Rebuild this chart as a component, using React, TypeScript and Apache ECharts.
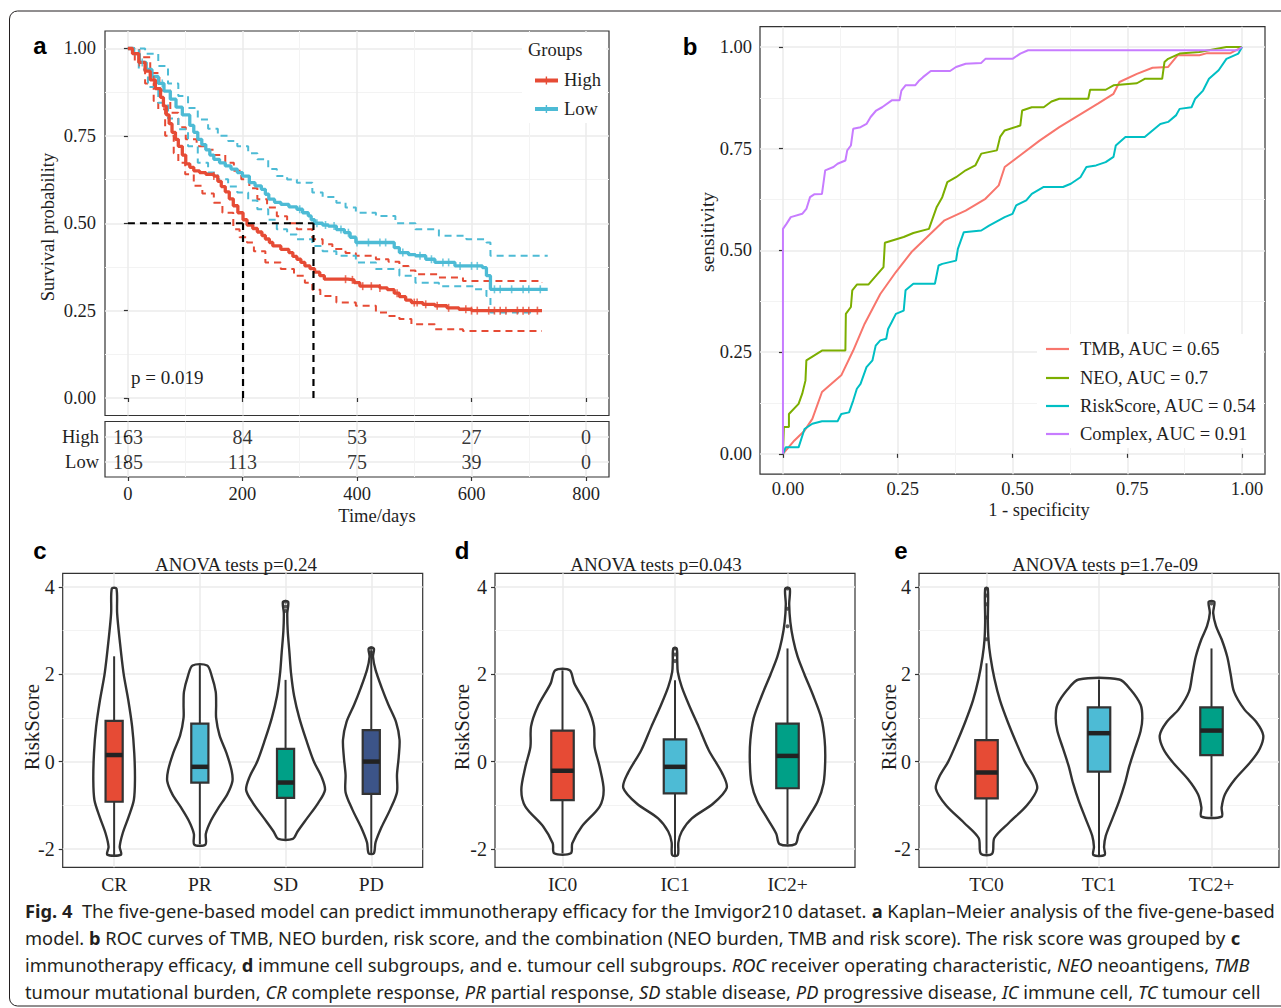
import React, { useEffect, useRef } from "react";
import * as echarts from "echarts";

const W = 1281;
const H = 1008;
const SERIF = '"Liberation Serif", "Times New Roman", serif';
const SANS = '"Liberation Sans", Arial, sans-serif';
const CAPFONT = '"Noto Sans", "Open Sans", sans-serif';

const RED = "#E64B35";
const BLUE = "#4DBBD5";
const TEAL = "#00A087";
const NAVY = "#3C5488";
const FRAME = "#333333";
const INK = "#1f1f1f";
const GRID_MAJOR = "#EBEBEB";
const GRID_MINOR = "#F3F3F3";

// ---------------- Panel a : Kaplan-Meier ----------------
const timeTicks = [0, 200, 400, 600, 800];
const timeMinor = [100, 300, 500, 700];
const probTicks = [0, 0.25, 0.5, 0.75, 1];
const probMinor = [0.125, 0.375, 0.625, 0.875];

const kmHigh = [
  [0, 1.0], [8, 0.985], [19, 0.96], [30, 0.935], [39, 0.91], [48, 0.885], [57, 0.86], [62, 0.835],
  [67, 0.81], [72, 0.785], [77, 0.76], [83, 0.74], [88, 0.72], [95, 0.695], [101, 0.67], [108, 0.66],
  [115, 0.65], [125, 0.645], [136, 0.64], [150, 0.635], [157, 0.62], [163, 0.605], [170, 0.59],
  [177, 0.57], [184, 0.55], [192, 0.53], [201, 0.51], [208, 0.495], [218, 0.485], [226, 0.475],
  [234, 0.465], [240, 0.455], [247, 0.445], [253, 0.435], [267, 0.425], [281, 0.416], [288, 0.405],
  [295, 0.397], [302, 0.388], [309, 0.378], [318, 0.37], [326, 0.36], [335, 0.35], [343, 0.34],
  [384, 0.338], [395, 0.33], [405, 0.32], [440, 0.315], [453, 0.31], [465, 0.3], [474, 0.29],
  [485, 0.28], [495, 0.273], [515, 0.268], [536, 0.264], [557, 0.258], [578, 0.254], [600, 0.25],
  [723, 0.25],
];
const kmLow = [
  [0, 1.0], [10, 0.985], [20, 0.96], [32, 0.94], [42, 0.92], [53, 0.9], [63, 0.878], [74, 0.855],
  [84, 0.832], [95, 0.81], [108, 0.78], [115, 0.76], [122, 0.74], [129, 0.725], [136, 0.71],
  [143, 0.695], [150, 0.683], [160, 0.673], [170, 0.664], [180, 0.655], [191, 0.645], [200, 0.635],
  [212, 0.616], [222, 0.607], [233, 0.597], [240, 0.583], [246, 0.569], [256, 0.56], [267, 0.554],
  [281, 0.547], [295, 0.54], [305, 0.53], [315, 0.521], [320, 0.51], [326, 0.5], [340, 0.495],
  [350, 0.492], [364, 0.482], [378, 0.473], [388, 0.46], [398, 0.445], [457, 0.445], [465, 0.43],
  [474, 0.416], [490, 0.41], [502, 0.407], [520, 0.397], [536, 0.388], [571, 0.378], [619, 0.373],
  [626, 0.35], [633, 0.311], [733, 0.311],
];
const kmHighUpper = [
  [0, 1], [20, 0.975], [39, 0.93], [55, 0.88], [74, 0.816], [88, 0.775], [101, 0.74], [120, 0.72],
  [136, 0.71], [150, 0.695], [170, 0.673], [185, 0.65], [198, 0.626], [212, 0.6], [226, 0.569],
  [243, 0.545], [260, 0.52], [278, 0.5], [295, 0.483], [322, 0.454], [340, 0.44], [357, 0.426],
  [380, 0.415], [398, 0.407], [433, 0.397], [455, 0.39], [474, 0.378], [490, 0.365], [502, 0.354],
  [543, 0.345], [585, 0.335], [723, 0.33],
];
const kmHighLower = [
  [0, 1], [12, 0.96], [30, 0.9], [45, 0.85], [53, 0.826], [65, 0.75], [80, 0.7], [88, 0.673],
  [100, 0.64], [115, 0.607], [130, 0.585], [150, 0.559], [165, 0.53], [184, 0.483], [195, 0.46],
  [208, 0.445], [220, 0.42], [240, 0.388], [267, 0.369], [290, 0.35], [309, 0.33], [322, 0.31],
  [336, 0.292], [364, 0.273], [398, 0.264], [433, 0.245], [455, 0.235], [474, 0.226], [495, 0.211],
  [536, 0.197], [585, 0.192], [723, 0.192],
];
const kmLowUpper = [
  [0, 1], [30, 0.985], [53, 0.95], [70, 0.9], [88, 0.864], [105, 0.83], [122, 0.797], [140, 0.77],
  [157, 0.75], [175, 0.735], [191, 0.72], [210, 0.7], [226, 0.683], [245, 0.655], [260, 0.635],
  [278, 0.625], [295, 0.616], [322, 0.588], [340, 0.575], [364, 0.559], [380, 0.545], [398, 0.53],
  [433, 0.521], [467, 0.5], [502, 0.483], [543, 0.464], [591, 0.454], [626, 0.445], [633, 0.407],
  [733, 0.407],
];
const kmLowLower = [
  [0, 1], [19, 0.94], [35, 0.89], [53, 0.845], [70, 0.8], [88, 0.769], [105, 0.72], [122, 0.673],
  [140, 0.645], [157, 0.626], [175, 0.605], [191, 0.588], [210, 0.565], [226, 0.54], [245, 0.51],
  [260, 0.483], [278, 0.468], [295, 0.454], [322, 0.435], [340, 0.42], [364, 0.407], [398, 0.388],
  [433, 0.369], [474, 0.35], [502, 0.33], [543, 0.32], [605, 0.311], [626, 0.292], [633, 0.245],
  [709, 0.24],
];
const medianHigh = 201;
const medianLow = 324;
const censorHigh = [
  20, 45, 150, 380, 392, 410, 425, 440, 470, 500, 505, 520, 540, 560, 590, 600, 610, 630, 640, 650,
  660, 680, 690, 700, 715,
];
const censorLow = [
  25, 60, 300, 330, 345, 360, 372, 385, 400, 420, 440, 450, 480, 510, 530, 550, 560, 580, 600, 610,
  640, 650, 670, 690, 700, 720,
];
const riskTimes = [0, 200, 400, 600, 800];
const riskHigh = [163, 84, 53, 27, 0];
const riskLow = [185, 113, 75, 39, 0];
const riskRows = ["Low", "High"];
const kmPValue = "p = 0.019";

// ---------------- Panel b : ROC ----------------
const rocTMB = [
  [0, 0], [0.025, 0.033], [0.047, 0.057], [0.064, 0.086], [0.085, 0.152], [0.127, 0.193],
  [0.153, 0.254], [0.178, 0.32], [0.212, 0.393], [0.246, 0.447], [0.28, 0.496], [0.314, 0.533],
  [0.352, 0.574], [0.398, 0.598], [0.441, 0.627], [0.47, 0.66], [0.483, 0.705], [0.517, 0.734],
  [0.559, 0.77], [0.602, 0.803], [0.644, 0.832], [0.686, 0.861], [0.72, 0.885], [0.733, 0.914],
  [0.771, 0.934], [0.805, 0.949], [0.839, 0.951], [0.86, 0.98], [0.907, 0.98], [0.924, 0.985],
  [0.975, 0.985], [1, 1],
];
const rocNEO = [
  [0, 0], [0.002, 0.066], [0.013, 0.066], [0.013, 0.098], [0.034, 0.123], [0.042, 0.148],
  [0.049, 0.18], [0.051, 0.23], [0.085, 0.254], [0.136, 0.254], [0.137, 0.344], [0.148, 0.361],
  [0.151, 0.402], [0.161, 0.416], [0.186, 0.416], [0.219, 0.459], [0.222, 0.519], [0.263, 0.533],
  [0.284, 0.543], [0.318, 0.553], [0.335, 0.607], [0.347, 0.631], [0.358, 0.668], [0.377, 0.68],
  [0.398, 0.697], [0.419, 0.709], [0.432, 0.738], [0.466, 0.746], [0.473, 0.779], [0.483, 0.795],
  [0.517, 0.807], [0.521, 0.844], [0.542, 0.852], [0.568, 0.852], [0.585, 0.866], [0.602, 0.873],
  [0.665, 0.873], [0.669, 0.895], [0.703, 0.895], [0.72, 0.906], [0.771, 0.911], [0.788, 0.922],
  [0.826, 0.922], [0.831, 0.963], [0.839, 0.971], [0.864, 0.984], [0.907, 0.988], [0.966, 1], [1, 1],
];
const rocRisk = [
  [0, 0], [0.006, 0.016], [0.034, 0.016], [0.047, 0.061], [0.064, 0.074], [0.085, 0.08],
  [0.119, 0.08], [0.127, 0.098], [0.144, 0.102], [0.153, 0.131], [0.161, 0.16], [0.169, 0.172],
  [0.182, 0.213], [0.195, 0.23], [0.202, 0.266], [0.212, 0.279], [0.225, 0.283], [0.229, 0.307],
  [0.237, 0.324], [0.246, 0.344], [0.263, 0.352], [0.267, 0.402], [0.284, 0.418], [0.331, 0.418],
  [0.339, 0.463], [0.347, 0.467], [0.377, 0.475], [0.381, 0.504], [0.394, 0.545], [0.432, 0.549],
  [0.449, 0.561], [0.483, 0.582], [0.5, 0.59], [0.508, 0.611], [0.53, 0.623], [0.542, 0.639],
  [0.568, 0.656], [0.61, 0.656], [0.627, 0.664], [0.648, 0.68], [0.661, 0.705], [0.682, 0.709],
  [0.703, 0.717], [0.72, 0.73], [0.725, 0.758], [0.746, 0.779], [0.788, 0.779], [0.805, 0.795],
  [0.822, 0.811], [0.839, 0.816], [0.856, 0.832], [0.864, 0.848], [0.89, 0.852], [0.898, 0.873],
  [0.915, 0.893], [0.928, 0.922], [0.949, 0.943], [0.966, 0.971], [0.992, 0.984], [1, 1],
];
const rocComplex = [
  [0, 0], [0, 0.553], [0.008, 0.566], [0.017, 0.582], [0.042, 0.59], [0.051, 0.602], [0.059, 0.631],
  [0.068, 0.638], [0.085, 0.639], [0.092, 0.697], [0.11, 0.705], [0.119, 0.713], [0.136, 0.721],
  [0.14, 0.746], [0.148, 0.758], [0.153, 0.799], [0.169, 0.803], [0.182, 0.811], [0.191, 0.828],
  [0.203, 0.844], [0.216, 0.852], [0.237, 0.869], [0.254, 0.869], [0.258, 0.893], [0.267, 0.906],
  [0.288, 0.906], [0.297, 0.918], [0.305, 0.926], [0.322, 0.941], [0.364, 0.941], [0.377, 0.951],
  [0.398, 0.959], [0.432, 0.961], [0.441, 0.971], [0.5, 0.971], [0.517, 0.984], [0.534, 0.992],
  [0.99, 0.992], [1, 1],
];
const rocNames = ["TMB, AUC = 0.65", "NEO, AUC = 0.7", "RiskScore, AUC = 0.54", "Complex, AUC = 0.91"];
const rocColors = ["#F8766D", "#7CAE00", "#00BFC4", "#C77CFF"];

// ---------------- Panels c, d, e : violins ----------------
const scoreTicks = [-2, 0, 2, 4];
const scoreMinor = [-1, 1, 3];

const catsC = ["CR", "PR", "SD", "PD"];
const catsD = ["IC0", "IC1", "IC2+"];
const catsE = ["TC0", "TC1", "TC2+"];

// box stats: [lower whisker, Q1, median, Q3, upper whisker]
const boxC = [
  [-2.14, -0.92, 0.15, 0.93, 2.41],
  [-1.89, -0.48, -0.12, 0.87, 2.21],
  [-1.77, -0.83, -0.48, 0.29, 1.87],
  [-2.1, -0.74, 0.0, 0.72, 2.55],
];
const boxD = [
  [-2.1, -0.88, -0.21, 0.71, 2.09],
  [-2.14, -0.73, -0.12, 0.51, 1.86],
  [-1.89, -0.61, 0.13, 0.87, 2.59],
];
const boxE = [
  [-2.11, -0.84, -0.25, 0.49, 2.25],
  [-2.14, -0.23, 0.65, 1.24, 1.88],
  [-1.26, 0.15, 0.71, 1.24, 2.59],
];

// violin outlines: [RiskScore, half width in category units], top to bottom
const vCR = [[3.96, 0.027], [3.4, 0.035], [2.78, 0.065], [2.02, 0.11], [1.41, 0.165], [0.8, 0.21], [0.19, 0.235], [-0.42, 0.243], [-0.88, 0.23], [-1.26, 0.17], [-1.64, 0.1], [-1.95, 0.065], [-2.13, 0.08]];
const vPR = [[2.2, 0.085], [1.95, 0.14], [1.6, 0.185], [1.3, 0.19], [1.0, 0.19], [0.6, 0.23], [0.2, 0.31], [-0.2, 0.37], [-0.45, 0.38], [-0.75, 0.32], [-1.05, 0.22], [-1.35, 0.13], [-1.65, 0.07], [-1.9, 0.065]];
const vSD = [[3.66, 0.03], [3.4, 0.02], [3.0, 0.025], [2.5, 0.045], [2.0, 0.065], [1.5, 0.1], [1.0, 0.16], [0.5, 0.24], [0.0, 0.33], [-0.35, 0.42], [-0.65, 0.46], [-0.95, 0.38], [-1.3, 0.25], [-1.6, 0.14], [-1.77, 0.085]];
const vPD = [[2.59, 0.03], [2.4, 0.02], [2.1, 0.05], [1.7, 0.12], [1.3, 0.2], [0.9, 0.29], [0.5, 0.33], [0.1, 0.32], [-0.3, 0.3], [-0.7, 0.3], [-1.1, 0.22], [-1.5, 0.12], [-1.85, 0.05], [-2.1, 0.03]];
const vIC0 = [[2.09, 0.064], [1.79, 0.105], [1.26, 0.22], [0.8, 0.28], [0.34, 0.285], [-0.12, 0.33], [-0.65, 0.366], [-1.03, 0.33], [-1.49, 0.17], [-1.87, 0.087], [-2.1, 0.074]];
const vIC1 = [[2.59, 0.015], [2.3, 0.02], [2.05, 0.025], [1.71, 0.06], [1.26, 0.13], [0.8, 0.21], [0.26, 0.3], [-0.27, 0.42], [-0.6, 0.46], [-0.96, 0.34], [-1.3, 0.15], [-1.6, 0.06], [-1.85, 0.03], [-2.14, 0.025]];
const vIC2 = [[3.96, 0.02], [3.6, 0.015], [3.2, 0.025], [2.8, 0.05], [2.4, 0.09], [2.0, 0.15], [1.5, 0.23], [1.0, 0.3], [0.5, 0.33], [0.0, 0.335], [-0.5, 0.32], [-0.9, 0.27], [-1.3, 0.18], [-1.65, 0.1], [-1.89, 0.07]];
const vTC0 = [[3.96, 0.012], [3.2, 0.012], [2.78, 0.018], [2.4, 0.035], [1.9, 0.07], [1.4, 0.12], [0.9, 0.19], [0.4, 0.27], [0.0, 0.34], [-0.35, 0.42], [-0.62, 0.45], [-1.0, 0.36], [-1.4, 0.2], [-1.75, 0.07], [-2.11, 0.05]];
const vTC1 = [[1.88, 0.18], [1.65, 0.28], [1.3, 0.37], [1.0, 0.385], [0.7, 0.37], [0.3, 0.32], [-0.1, 0.27], [-0.5, 0.23], [-0.9, 0.18], [-1.3, 0.12], [-1.7, 0.06], [-1.95, 0.045], [-2.14, 0.05]];
const vTC2 = [[3.66, 0.025], [3.4, 0.015], [3.1, 0.04], [2.8, 0.09], [2.4, 0.14], [2.0, 0.17], [1.6, 0.2], [1.2, 0.29], [0.9, 0.4], [0.6, 0.46], [0.3, 0.43], [0.0, 0.35], [-0.4, 0.21], [-0.75, 0.12], [-1.05, 0.09], [-1.26, 0.09]];

const outliersC = [[3, 3.45], [3, 3.55], [3, 3.66], [4, 2.42], [4, 2.5], [4, 2.6]];
const outliersD = [[2, 2.3], [2, 2.45], [2, 2.59], [3, 3.1], [3, 3.5], [3, 3.96]];
const outliersE = [[1, 2.8], [1, 3.3], [1, 3.6], [1, 3.8], [1, 3.96], [3, 3.62]];

const anovaC = "ANOVA tests p=0.24";
const anovaD = "ANOVA tests p=0.043";
const anovaE = "ANOVA tests p=1.7e-09";

// ---------------- Caption ----------------
const caption1 = [
  ["b", "Fig. 4"],
  ["n", "  The five-gene-based model can predict immunotherapy efficacy for the Imvigor210 dataset. "],
  ["b", "a"],
  ["n", " Kaplan–Meier analysis of the five-gene-based"],
];
const caption2 = [
  ["n", "model. "],
  ["b", "b"],
  ["n", " ROC curves of TMB, NEO burden, risk score, and the combination (NEO burden, TMB and risk score). The risk score was grouped by "],
  ["b", "c"],
];
const caption3 = [
  ["n", "immunotherapy efficacy, "],
  ["b", "d"],
  ["n", " immune cell subgroups, and e. tumour cell subgroups. "],
  ["i", "ROC"],
  ["n", " receiver operating characteristic, "],
  ["i", "NEO"],
  ["n", " neoantigens, "],
  ["i", "TMB"],
];
const caption4 = [
  ["n", "tumour mutational burden, "],
  ["i", "CR"],
  ["n", " complete response, "],
  ["i", "PR"],
  ["n", " partial response, "],
  ["i", "SD"],
  ["n", " stable disease, "],
  ["i", "PD"],
  ["n", " progressive disease, "],
  ["i", "IC"],
  ["n", " immune cell, "],
  ["i", "TC"],
  ["n", " tumour cell"],
];
const CAP_SIZE = 18.5;

// ---------------- helpers ----------------
function survAt(curve: number[][], t: number) {
  let s = 1;
  for (const [ct, cs] of curve) if (ct <= t) s = cs;
  return s;
}

function mainAxis(gridIndex: number, min: number, max: number, majors: number[], cfg: any) {
  return {
    type: "value",
    gridIndex,
    min,
    max,
    position: cfg.position,
    axisLine: { show: false },
    axisTick: {
      show: cfg.tick !== false,
      length: 4,
      inside: false,
      customValues: majors,
      lineStyle: { color: FRAME, width: 1.2 },
    },
    axisLabel: cfg.label
      ? {
          show: true,
          customValues: majors,
          formatter: cfg.formatter,
          color: INK,
          fontFamily: SERIF,
          fontSize: cfg.fontSize,
          margin: cfg.margin,
          padding: cfg.padding || 0,
        }
      : { show: false },
    splitLine: { show: true, lineStyle: { color: GRID_MAJOR, width: 1.5 } },
  };
}
function minorAxis(gridIndex: number, min: number, max: number, minors: number[]) {
  return {
    type: "value",
    gridIndex,
    min,
    max,
    axisLine: { show: false },
    axisTick: { show: false, customValues: minors },
    axisLabel: { show: false },
    splitLine: { show: true, lineStyle: { color: GRID_MINOR, width: 1 } },
  };
}

function txt(text: string, x: number, y: number, o: any = {}) {
  return {
    type: "text",
    x,
    y,
    rotation: o.rotation || 0,
    z: 20,
    silent: true,
    style: {
      text,
      fill: o.fill || INK,
      fontFamily: o.fontFamily || SERIF,
      fontSize: o.fontSize || 18.5,
      fontWeight: o.fontWeight || "normal",
      align: o.align || "center",
      verticalAlign: "middle",
    },
  };
}

function violinSeries(xIdx: number, yIdx: number, profiles: number[][][], fills: string[], boxes: number[][]) {
  const BOX_HALF = 0.1;
  return {
    type: "custom",
    xAxisIndex: xIdx,
    yAxisIndex: yIdx,
    silent: true,
    z: 3,
    data: boxes.map((b, i) => [i + 1, ...b]),
    encode: { x: 0, y: [1, 2, 3, 4, 5] },
    renderItem: (params: any, api: any) => {
      const i = params.dataIndex;
      const cx = api.value(0);
      const prof = profiles[i];
      const pts: number[][] = [];
      for (const [y, w] of prof) pts.push(api.coord([cx + w, y]));
      for (let k = prof.length - 1; k >= 0; k--) pts.push(api.coord([cx - prof[k][1], prof[k][0]]));
      const lo = api.value(1), q1 = api.value(2), md = api.value(3), q3 = api.value(4), hi = api.value(5);
      const tl = api.coord([cx - BOX_HALF, q3]);
      const br = api.coord([cx + BOX_HALF, q1]);
      const mL = api.coord([cx - BOX_HALF, md]);
      const mR = api.coord([cx + BOX_HALF, md]);
      const pHi = api.coord([cx, hi]);
      const pQ3 = api.coord([cx, q3]);
      const pQ1 = api.coord([cx, q1]);
      const pLo = api.coord([cx, lo]);
      return {
        type: "group",
        children: [
          { type: "polygon", shape: { points: pts, smooth: 0.3 }, style: { fill: "#fff", stroke: FRAME, lineWidth: 2.4 } },
          { type: "line", shape: { x1: pHi[0], y1: pHi[1], x2: pQ3[0], y2: pQ3[1] }, style: { stroke: FRAME, lineWidth: 2 } },
          { type: "line", shape: { x1: pQ1[0], y1: pQ1[1], x2: pLo[0], y2: pLo[1] }, style: { stroke: FRAME, lineWidth: 2 } },
          {
            type: "rect",
            shape: { x: tl[0], y: tl[1], width: br[0] - tl[0], height: br[1] - tl[1] },
            style: { fill: fills[i], stroke: FRAME, lineWidth: 2.2 },
          },
          { type: "line", shape: { x1: mL[0], y1: mL[1], x2: mR[0], y2: mR[1] }, style: { stroke: "#222", lineWidth: 4.5 } },
        ],
      };
    },
  };
}

function richStyles() {
  const base = { fontSize: CAP_SIZE, fontFamily: CAPFONT, fill: "#231F20", color: "#231F20" };
  return {
    n: { ...base },
    b: { ...base, fontWeight: "bold" },
    i: { ...base, fontStyle: "italic" },
  };
}
function richText(segs: string[][]) {
  return segs.map(([s, t]) => `{${s}|${t}}`).join("");
}
function measureSegs(segs: string[][]) {
  const ctx = document.createElement("canvas").getContext("2d");
  if (!ctx) return 1500;
  let w = 0;
  for (const [s, t] of segs) {
    ctx.font = `${s === "i" ? "italic " : ""}${s === "b" ? "bold " : ""}${CAP_SIZE}px ${CAPFONT}`;
    w += ctx.measureText(t).width;
  }
  return w;
}

function buildOption() {
  const capScale = 1250 / measureSegs(caption1);
  const fmt2 = (v: number) => v.toFixed(2);

  const grids = [
    { left: 105, top: 31, width: 504, height: 384.5 }, // KM
    { left: 105, top: 421.5, width: 504, height: 55.5 }, // risk table
    { left: 760, top: 26.7, width: 505, height: 447.5 }, // ROC
    { left: 62.7, top: 573.3, width: 360, height: 294 }, // c
    { left: 495, top: 573.3, width: 360, height: 294 }, // d
    { left: 919, top: 573.3, width: 360, height: 294 }, // e
  ].map((g) => ({ ...g, show: true, borderColor: FRAME, borderWidth: 1.2, backgroundColor: "transparent" }));

  const xAxis = [
    mainAxis(0, -40, 840, timeTicks, { label: false, position: "bottom" }), // 0
    minorAxis(0, -40, 840, timeMinor), // 1
    mainAxis(1, -40, 840, timeTicks, { label: true, fontSize: 18.5, margin: 7, position: "bottom" }), // 2
    minorAxis(1, -40, 840, timeMinor), // 3
    mainAxis(2, -0.05, 1.05, probTicks, { label: true, fontSize: 18.5, margin: 5, formatter: fmt2, position: "bottom", padding: [0, 0, 0, 10] }), // 4
    minorAxis(2, -0.05, 1.05, probMinor), // 5
    mainAxis(3, 0.4, 4.6, [1, 2, 3, 4], { label: true, fontSize: 19.5, margin: 7, formatter: (v: number) => catsC[v - 1], position: "bottom" }), // 6
    mainAxis(4, 0.4, 3.6, [1, 2, 3], { label: true, fontSize: 19.5, margin: 7, formatter: (v: number) => catsD[v - 1], position: "bottom" }), // 7
    mainAxis(5, 0.4, 3.6, [1, 2, 3], { label: true, fontSize: 19.5, margin: 7, formatter: (v: number) => catsE[v - 1], position: "bottom" }), // 8
  ];
  const yAxis = [
    mainAxis(0, -0.05, 1.05, probTicks, { label: true, fontSize: 18.5, margin: 9, formatter: fmt2, position: "left" }), // 0
    minorAxis(0, -0.05, 1.05, probMinor), // 1
    mainAxis(1, 0.4, 2.6, [1, 2], { label: true, fontSize: 18.5, margin: 6, formatter: (v: number) => riskRows[v - 1], position: "left" }), // 2
    mainAxis(2, -0.05, 1.05, probTicks, { label: true, fontSize: 18.5, margin: 8, formatter: fmt2, position: "left" }), // 3
    minorAxis(2, -0.05, 1.05, probMinor), // 4
    mainAxis(3, -2.42, 4.31, scoreTicks, { label: true, fontSize: 20, margin: 8, formatter: (v: number) => String(v), position: "left" }), // 5
    minorAxis(3, -2.42, 4.31, scoreMinor), // 6
    mainAxis(4, -2.42, 4.31, scoreTicks, { label: true, fontSize: 20, margin: 8, formatter: (v: number) => String(v), position: "left" }), // 7
    minorAxis(4, -2.42, 4.31, scoreMinor), // 8
    mainAxis(5, -2.42, 4.31, scoreTicks, { label: true, fontSize: 20, margin: 8, formatter: (v: number) => String(v), position: "left" }), // 9
    minorAxis(5, -2.42, 4.31, scoreMinor), // 10
  ];

  const kmLine = (data: number[][], color: string, width: number, dashed: boolean, z: number) => ({
    type: "line",
    xAxisIndex: 0,
    yAxisIndex: 0,
    data,
    step: "end",
    symbol: "none",
    silent: true,
    z,
    lineStyle: { color, width, type: dashed ? [7, 5] : "solid" },
  });
  const medLine = (data: number[][]) => ({
    type: "line",
    xAxisIndex: 0,
    yAxisIndex: 0,
    data,
    symbol: "none",
    silent: true,
    z: 6,
    lineStyle: { color: "#000", width: 2.2, type: [7, 5] },
  });
  const censor = (times: number[], curve: number[][], color: string) => ({
    type: "scatter",
    xAxisIndex: 0,
    yAxisIndex: 0,
    data: times.map((t) => [t, survAt(curve, t)]),
    symbol: "rect",
    symbolSize: [1.6, 8],
    silent: true,
    z: 5,
    itemStyle: { color },
  });
  const riskSeries = (counts: number[], row: number) => ({
    type: "scatter",
    xAxisIndex: 2,
    yAxisIndex: 2,
    data: riskTimes.map((t, i) => [t, row, counts[i]]),
    symbolSize: 1,
    itemStyle: { color: "transparent" },
    silent: true,
    label: {
      show: true,
      position: "inside",
      formatter: (p: any) => String(p.value[2]),
      color: "#000",
      fontFamily: SERIF,
      fontSize: 20,
    },
  });
  const rocSeries = (data: number[][], color: string, z: number) => ({
    type: "line",
    xAxisIndex: 4,
    yAxisIndex: 3,
    data,
    symbol: "none",
    silent: true,
    z,
    lineStyle: { color, width: 2 },
  });
  const outlierSeries = (xIdx: number, yIdx: number, data: number[][]) => ({
    type: "scatter",
    xAxisIndex: xIdx,
    yAxisIndex: yIdx,
    data,
    symbol: "circle",
    symbolSize: 4,
    silent: true,
    z: 4,
    itemStyle: { color: "#333" },
  });

  const series: any[] = [
    kmLine(kmHighUpper, RED, 2, true, 3),
    kmLine(kmHighLower, RED, 2, true, 3),
    kmLine(kmLowUpper, BLUE, 2, true, 3),
    kmLine(kmLowLower, BLUE, 2, true, 3),
    kmLine(kmLow, BLUE, 3.3, false, 4),
    kmLine(kmHigh, RED, 3.3, false, 4),
    censor(censorLow, kmLow, BLUE),
    censor(censorHigh, kmHigh, RED),
    medLine([[0, 0.5], [medianLow, 0.5]]),
    medLine([[medianHigh, 0], [medianHigh, 0.5]]),
    medLine([[medianLow, 0], [medianLow, 0.5]]),
    riskSeries(riskHigh, 2),
    riskSeries(riskLow, 1),
    rocSeries(rocTMB, rocColors[0], 3),
    rocSeries(rocNEO, rocColors[1], 4),
    rocSeries(rocRisk, rocColors[2], 5),
    rocSeries(rocComplex, rocColors[3], 6),
    violinSeries(6, 5, [vCR, vPR, vSD, vPD], [RED, BLUE, TEAL, NAVY], boxC),
    outlierSeries(6, 5, outliersC),
    violinSeries(7, 7, [vIC0, vIC1, vIC2], [RED, BLUE, TEAL], boxD),
    outlierSeries(7, 7, outliersD),
    violinSeries(8, 9, [vTC0, vTC1, vTC2], [RED, BLUE, TEAL], boxE),
    outlierSeries(8, 9, outliersE),
  ];

  const rich = richStyles();
  const capLine = (segs: string[][], y: number) => ({
    type: "text",
    x: 25,
    y,
    scaleX: capScale,
    z: 20,
    silent: true,
    style: {
      text: richText(segs),
      rich,
      fontSize: CAP_SIZE,
      fontFamily: CAPFONT,
      fill: "#231F20",
      align: "left",
      verticalAlign: "middle",
    },
  });

  const graphic: any[] = [
    {
      type: "rect",
      z: 0,
      silent: true,
      shape: { x: 9.5, y: 11, width: 1300, height: 995, r: 8 },
      style: { fill: "none", stroke: "#231F20", lineWidth: 1 },
    },
    // legend backgrounds
    { type: "rect", z: 1, silent: true, shape: { x: 522, y: 33, width: 84, height: 90 }, style: { fill: "#fff" } },
    { type: "rect", z: 1, silent: true, shape: { x: 1037, y: 334, width: 226, height: 114 }, style: { fill: "#fff" } },
    // panel letters
    txt("a", 40, 45, { fontFamily: SANS, fontWeight: "bold", fontSize: 24, fill: "#000" }),
    txt("b", 690, 46, { fontFamily: SANS, fontWeight: "bold", fontSize: 24, fill: "#000" }),
    txt("c", 40, 550, { fontFamily: SANS, fontWeight: "bold", fontSize: 24, fill: "#000" }),
    txt("d", 462, 550, { fontFamily: SANS, fontWeight: "bold", fontSize: 24, fill: "#000" }),
    txt("e", 901, 550, { fontFamily: SANS, fontWeight: "bold", fontSize: 24, fill: "#000" }),
    // panel a texts
    txt("Survival probability", 48, 227, { rotation: Math.PI / 2, fontSize: 18.5 }),
    txt("Time/days", 377, 516, { fontSize: 18.5 }),
    txt(kmPValue, 131, 377, { align: "left", fontSize: 19 }),
    txt("Groups", 528, 50, { align: "left", fontSize: 18.5 }),
    { type: "rect", z: 21, silent: true, shape: { x: 535, y: 78.5, width: 23, height: 4 }, style: { fill: RED } },
    { type: "rect", z: 21, silent: true, shape: { x: 545.7, y: 76.5, width: 1.4, height: 8 }, style: { fill: RED } },
    { type: "rect", z: 21, silent: true, shape: { x: 535, y: 107, width: 23, height: 4 }, style: { fill: BLUE } },
    { type: "rect", z: 21, silent: true, shape: { x: 545.7, y: 105, width: 1.4, height: 8 }, style: { fill: BLUE } },
    txt("High", 564, 80, { align: "left", fontSize: 18.5 }),
    txt("Low", 564, 109, { align: "left", fontSize: 18.5 }),
    // panel b texts
    txt("sensitivity", 707, 232, { rotation: Math.PI / 2, fontSize: 19.5 }),
    txt("1 - specificity", 1039, 510, { fontSize: 18.5 }),
    // panel c-e texts
    txt(anovaC, 236, 564, { fontSize: 19 }),
    txt(anovaD, 656, 564, { fontSize: 19 }),
    txt(anovaE, 1105, 564, { fontSize: 19 }),
    txt("RiskScore", 32, 727, { rotation: Math.PI / 2, fontSize: 21 }),
    txt("RiskScore", 462, 727, { rotation: Math.PI / 2, fontSize: 21 }),
    txt("RiskScore", 889, 727, { rotation: Math.PI / 2, fontSize: 21 }),
    // caption
    capLine(caption1, 910),
    capLine(caption2, 937),
    capLine(caption3, 964),
    capLine(caption4, 991),
  ];
  const legendYs = [349, 378, 406, 434];
  rocNames.forEach((name, i) => {
    graphic.push({
      type: "line",
      z: 21,
      silent: true,
      shape: { x1: 1046, y1: legendYs[i], x2: 1069, y2: legendYs[i] },
      style: { stroke: rocColors[i], lineWidth: 2.2 },
    });
    graphic.push(txt(name, 1080, legendYs[i], { align: "left", fontSize: 18.5 }));
  });

  return {
    animation: false,
    backgroundColor: "#ffffff",
    grid: grids,
    xAxis,
    yAxis,
    series,
    graphic,
  };
}

export default function App() {
  const ref = useRef<HTMLDivElement>(null);
  useEffect(() => {
    if (!ref.current) return;
    const chart = echarts.init(ref.current, undefined, { renderer: "svg", width: W, height: H });
    chart.setOption(buildOption() as any);
    return () => chart.dispose();
  }, []);
  return (
    <div
      ref={ref}
      style={{ position: "absolute", left: 0, top: 0, width: W, height: H, background: "#fff" }}
    />
  );
}
